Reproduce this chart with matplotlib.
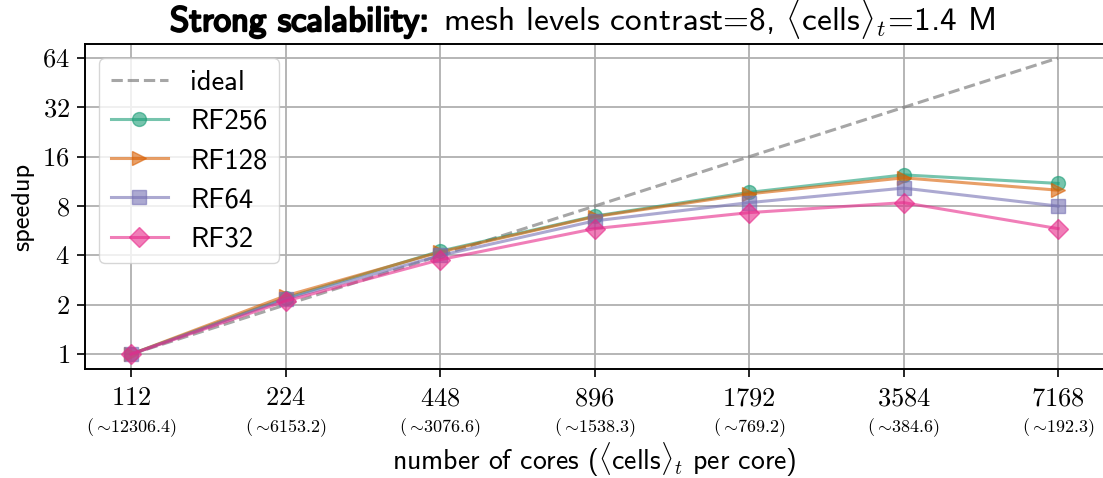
import matplotlib
matplotlib.use("Agg")
import matplotlib.pyplot as plt
import matplotlib.patheffects as pe
from matplotlib.ticker import FixedLocator, FixedFormatter, NullLocator

plt.rcParams['font.family'] = 'cmss10'
plt.rcParams['mathtext.fontset'] = 'cm'
plt.rcParams['axes.formatter.use_mathtext'] = True

# donnees
cores = [112, 224, 448, 896, 1792, 3584, 7168]
cells_per_core = ["12306.4", "6153.2", "3076.6", "1538.3", "769.2", "384.6", "192.3"]
ideal = [1, 2, 4, 8, 16, 32, 64]
rf256 = [1.0, 2.20, 4.25, 6.95, 9.7, 12.4, 11.0]
rf128 = [1.0, 2.27, 4.20, 6.90, 9.5, 11.9, 10.0]
rf64 = [1.0, 2.17, 4.00, 6.50, 8.4, 10.3, 8.0]
rf32 = [1.0, 2.11, 3.77, 5.83, 7.3, 8.4, 5.83]
yticks = [1, 2, 4, 8, 16, 32, 64]

fig = plt.figure(figsize=(11.03, 4.78), dpi=100)
ax = fig.add_axes([0.0771, 0.228, 0.924, 0.680])

ax.plot(cores, ideal, '--', color='gray', alpha=0.7, lw=2.2, label='ideal', zorder=2)
series = [('RF256', rf256, 'o', '#1b9e77'),
          ('RF128', rf128, '>', '#d95f02'),
          ('RF64', rf64, 's', '#7570b3'),
          ('RF32', rf32, 'D', '#e7298a')]
for nom, y, m, c in series:
    ax.plot(cores, y, marker=m, color=c, alpha=0.6, lw=2.2, ms=10, label=nom, zorder=3)

ax.set_xscale('log', base=2)
ax.set_yscale('log', base=2)
ax.set_xlim(112 * 2**-0.298, 7168 * 2**0.298)
ax.set_ylim(2**-0.30, 64 * 2**0.284)

ax.xaxis.set_major_locator(FixedLocator(cores))
ax.xaxis.set_major_formatter(FixedFormatter([r'$%d$' % c for c in cores]))
ax.xaxis.set_minor_locator(NullLocator())
ax.yaxis.set_major_locator(FixedLocator(yticks))
ax.yaxis.set_major_formatter(FixedFormatter([r'$%d$' % v for v in yticks]))
ax.yaxis.set_minor_locator(NullLocator())
ax.tick_params(axis='x', labelsize=19, length=6, width=1.2, pad=7)
ax.tick_params(axis='y', labelsize=19, length=6, width=1.2, pad=5)

for c, s in zip(cores, cells_per_core):
    ax.text(c, -0.18, r'$(\sim\!%s)$' % s, transform=ax.get_xaxis_transform(),
            ha='center', va='center', fontsize=13)

ax.grid(True, color='#b0b0b0', lw=1.3)
ax.set_axisbelow(True)
for sp in ax.spines.values():
    sp.set_linewidth(1.4)
    sp.set_color('black')

ax.set_ylabel('speedup', fontsize=19, labelpad=6)
ax.set_xlabel(r'number of cores ($\langle\mathsf{cells}\rangle_t$ per core)', fontsize=20, labelpad=22)

ax.legend(loc='upper left', fontsize=20.5, borderaxespad=0.5, handlelength=2.0)

# titre (partie grasse + partie normale juste apres)
y_base = 1 - 31 / 478
t1 = fig.text(170 / 1103, y_base, 'Strong scalability:', fontsize=25, ha='left', va='baseline',
              path_effects=[pe.withStroke(linewidth=1.6, foreground='black')])
fig.canvas.draw()
x_fin = t1.get_window_extent().x1 / fig.bbox.width
fig.text(x_fin + 14 / 1103, y_base, r'mesh levels contrast=8, $\langle\mathsf{cells}\rangle_t$=1.4 M',
         fontsize=24, ha='left', va='baseline')

fig.savefig('out.png', dpi=100)
